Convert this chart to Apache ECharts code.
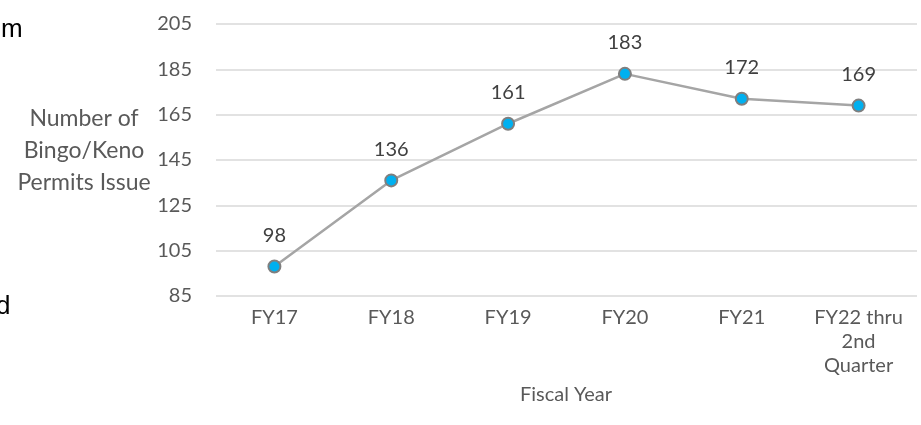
<!DOCTYPE html>
<html>
<head>
<meta charset="utf-8">
<script src="https://cdn.jsdelivr.net/npm/echarts@6/dist/echarts.min.js"></script>
<style>
  html, body { margin: 0; padding: 0; background: #fff; }
  #chart { width: 921px; height: 425px; }
</style>
</head>
<body>
<div id="chart"></div>
<script>
// categories and values
var categories = ['FY17', 'FY18', 'FY19', 'FY20', 'FY21', 'FY22 thru\n2nd\nQuarter'];
var permits = [98, 136, 161, 183, 172, 169];
var yTicks = [85, 105, 125, 145, 165, 185, 205];

var font = 'Lato';
var myChart = echarts.init(document.getElementById('chart'));

var option = {
    animation: false,
    textStyle: { fontFamily: font },
    grid: { left: 216, right: 4, top: 24, bottom: 129 },
    // clipped text left of the chart + axis titles
    graphic: [
        { type: 'text', left: 1, top: 17, style: { text: 'm', font: '26px "Liberation Sans"', fill: '#000' } },
        { type: 'text', left: -4, top: 294, style: { text: 'd', font: '26px "Liberation Sans"', fill: '#000' } },
        { type: 'text', x: 84, y: 151, style: {
            text: 'Number of\nBingo/Keno\nPermits Issue', font: '23px ' + font,
            fill: '#595959', align: 'center', verticalAlign: 'middle', lineHeight: 32 } },
        { type: 'text', x: 566, y: 395, style: {
            text: 'Fiscal Year', font: '20px ' + font, fill: '#595959',
            align: 'center', verticalAlign: 'middle' } }
    ],
    xAxis: {
        type: 'category',
        data: categories,
        axisLine: { show: false },
        axisTick: { show: false },
        axisLabel: { color: '#595959', fontSize: 20, lineHeight: 24, margin: 10, interval: 0 }
    },
    yAxis: {
        type: 'value',
        min: yTicks[0],
        max: yTicks[yTicks.length - 1],
        interval: 20,
        axisLine: { show: false },
        axisTick: { show: false },
        axisLabel: { color: '#595959', fontSize: 20, margin: 24 },
        splitLine: { lineStyle: { color: '#d9d9d9', width: 1.5 } }
    },
    series: [{
        type: 'line',
        data: permits,
        symbol: 'circle',
        symbolSize: 12,
        lineStyle: { color: '#a5a5a5', width: 2.5 },
        itemStyle: { color: '#00b0f0', borderColor: '#7f7f7f', borderWidth: 2 },
        label: { show: true, position: 'top', distance: 14, color: '#404040', fontSize: 20 }
    }]
};

myChart.setOption(option);
</script>
</body>
</html>
